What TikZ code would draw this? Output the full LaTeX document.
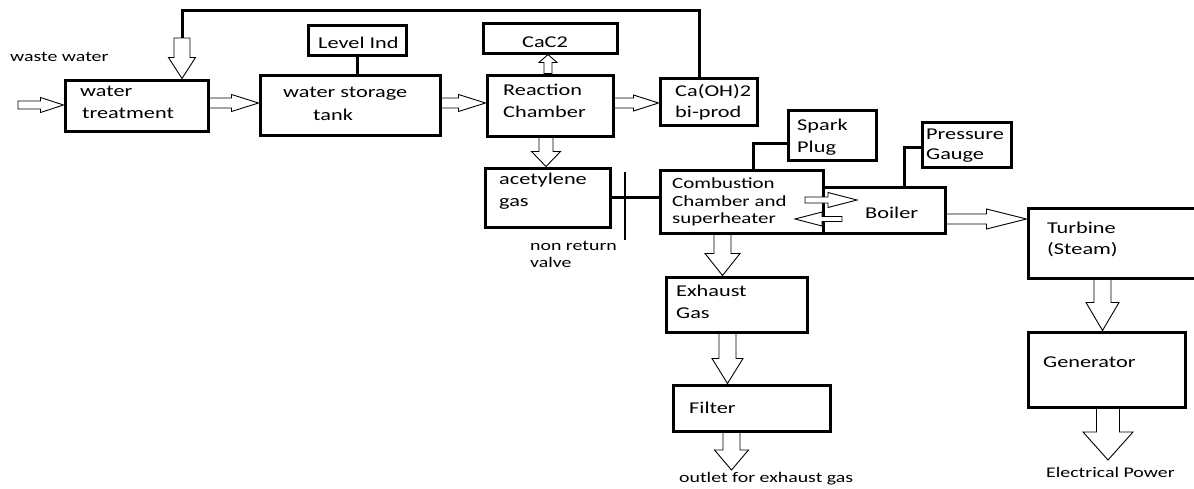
\documentclass[tikz,border=0pt]{standalone}
\usepackage{fontspec}
\setmainfont{Carlito}[FakeStretch=1.35]
\usetikzlibrary{calc}
\tikzset{
  box/.style={draw, line width=3pt, rectangle, inner sep=0pt},
  link/.style={line width=3pt, line join=miter},
  thinlink/.style={line width=1.3pt},
  harrow/.style={draw, line width=0.9pt, fill=white, line join=miter},
  lbl/.style={anchor=base west, inner sep=0pt, text=black, font=\fontsize{16.5}{16.5}\selectfont},
  smalltxt/.style={font=\fontsize{14.7}{14.7}\selectfont},
  midtxt/.style={font=\fontsize{15.5}{15.5}\selectfont},
}
\newcommand\mkbox[5]{\node[box, minimum width={(#4-#2)*1pt}, minimum height={(#5-#3)*1pt}] (#1) at ({(#2+#4)/2},{(#3+#5)/2}) {};}
% #1 half shaft, #2 half head, #3 head length, #4 from, #5 to
\newcommand\hollow[5]{%
  \path[harrow] let \p1=(#4), \p2=(#5),
    \n1={veclen(\x2-\x1,\y2-\y1)}, \n2={atan2(\y2-\y1,\x2-\x1)},
    \n3={atan2(#2,#3)}, \n4={veclen(#2,#3)} in
    (\p1) ++(\n2+90:{#1*1pt})
    -- ++(\n2:{(\n1-#3)*1pt})
    -- ++(\n2+90:{(#2-#1)*1pt})
    -- (\p2)
    -- ++(\n2+180+\n3:{\n4*1pt})
    -- ++(\n2+90:{(#2-#1)*1pt})
    -- ++(\n2+180:{(\n1-#3)*1pt})
    -- cycle;}
\begin{document}
\begin{tikzpicture}[x=1pt,y=-1pt]
\useasboundingbox (0,0) rectangle (1194,488);
\clip (0,0) rectangle (1194,488);
\fill[white] (0,0) rectangle (1194,488);
% boxes
\mkbox{wt}{65}{80}{208}{131}
\mkbox{wst}{260}{75}{440}{135}
\mkbox{lvl}{308}{25}{406}{55}
\mkbox{cac}{483}{23}{617}{53}
\mkbox{rc}{487}{75}{613}{136}
\mkbox{cao}{660}{78}{757}{125}
\mkbox{ace}{485}{168}{610}{227}
\mkbox{comb}{660}{170}{823}{233}
\mkbox{spark}{788}{110}{876}{160}
\mkbox{boil}{823}{187}{945}{233}
\mkbox{pg}{922}{122}{1011}{167}
\mkbox{turb}{1028}{208}{1215}{278}
\mkbox{gen}{1028}{332}{1185}{407}
\mkbox{exh}{666}{277}{807}{332}
\mkbox{filt}{673}{385}{830}{431}
% coordinates
\coordinate (win) at (18,105);
\coordinate (fbA) at (699,10);
\coordinate (fbB) at (182,10);
\coordinate (fbC) at (182,38);
\coordinate (outE) at (731.5,470);
\coordinate (outP) at (1108,460);
\coordinate (hR1) at (805,200);
\coordinate (hR2) at (857,200);
\coordinate (hL1) at (842,219);
\coordinate (hL2) at (795,219);
\coordinate (vT) at (625,172);
\coordinate (vB) at (625,240);
% links
\draw[link] (lvl.south) -- (lvl.south |- wst.north);
\draw[link] (comb.north -| 753,0) |- (spark.west |- 0,143);
\draw[link] (boil.north -| 904,0) |- (pg.west |- 0,147);
\draw[link] (cao.north -| fbA) -- (fbA) -- (fbB) -- (fbC);
\draw[link] (ace.east |- 0,197) -- (comb.west |- 0,197);
\draw[thinlink] (vT) -- (vB);
% hollow arrows
\hollow{4}{7.5}{23}{win}{wt.west |- win}
\hollow{5}{8.5}{27}{wt.east |- 0,103}{wst.west |- 0,103}
\hollow{5}{8.5}{27}{wst.east |- 0,103}{rc.west |- 0,103}
\hollow{5}{8}{25}{rc.east |- 0,103}{cao.west |- 0,103}
\hollow{4}{9}{8}{rc.north -| 548,0}{cac.south -| 548,0}
\hollow{7}{14.5}{15}{rc.south -| 546,0}{ace.north -| 546,0}
\hollow{8}{13.5}{21}{fbC}{wt.north -| fbC}
\hollow{8.5}{17.5}{22}{comb.south -| 722.5,0}{exh.north -| 722.5,0}
\hollow{8.5}{15.5}{25}{exh.south -| 727.5,0}{filt.north -| 727.5,0}
\hollow{8.5}{17}{20}{filt.south -| outE}{outE}
\hollow{8.5}{16.5}{28}{turb.south -| 1102.5,0}{gen.north -| 1102.5,0}
\hollow{11.5}{25}{28}{gen.south -| outP}{outP}
\hollow{5}{10}{40}{boil.east |- 0,219}{turb.west |- 0,219}
\hollow{3}{7.5}{29}{hR1}{hR2}
\hollow{2.5}{7}{27}{hL1}{hL2}
% labels
\node[lbl,smalltxt] (tww) at (10,61) {waste water};
\node[lbl] (twt1) at (80,96) {water};
\node[lbl] (twt2) at (82,118) {treatment};
\node[lbl] (tws1) at (283,97) {water storage};
\node[lbl] (tws2) at (313,120) {tank};
\node[lbl] (tlv) at (318,48) {Level Ind};
\node[lbl] (tcc) at (522,47) {CaC2};
\node[lbl] (trc1) at (503,95) {Reaction};
\node[lbl] (trc2) at (503,117) {Chamber};
\node[lbl] (tca1) at (675,96) {Ca(OH)2};
\node[lbl] (tca2) at (675,117) {bi-prod};
\node[lbl] (tac1) at (499,184) {acetylene};
\node[lbl] (tac2) at (499,206) {gas};
\node[lbl,smalltxt] (tnr1) at (530,250) {non return};
\node[lbl,smalltxt] (tnr2) at (530,267) {valve};
\node[lbl,midtxt] (tcb1) at (672,188) {Combustion};
\node[lbl,midtxt] (tcb2) at (672,206) {Chamber and};
\node[lbl,midtxt] (tcb3) at (672,223) {superheater};
\node[lbl] (tsp1) at (797,130) {Spark};
\node[lbl] (tsp2) at (797,152) {Plug};
\node[lbl] (tbo) at (865,218) {Boiler};
\node[lbl] (tpg1) at (926,139) {Pressure};
\node[lbl] (tpg2) at (926,159) {Gauge};
\node[lbl] (ttu1) at (1047,233) {Turbine};
\node[lbl] (ttu2) at (1047,254) {(Steam)};
\node[lbl] (tex1) at (676,296) {Exhaust};
\node[lbl] (tex2) at (676,318) {Gas};
\node[lbl] (tfi) at (689,413) {Filter};
\node[lbl,smalltxt] (tout) at (679,482) {outlet for exhaust gas};
\node[lbl] (tge) at (1043,367) {Generator};
\node[lbl,smalltxt] (tep) at (1046,477) {Electrical Power};
\end{tikzpicture}
\end{document}
